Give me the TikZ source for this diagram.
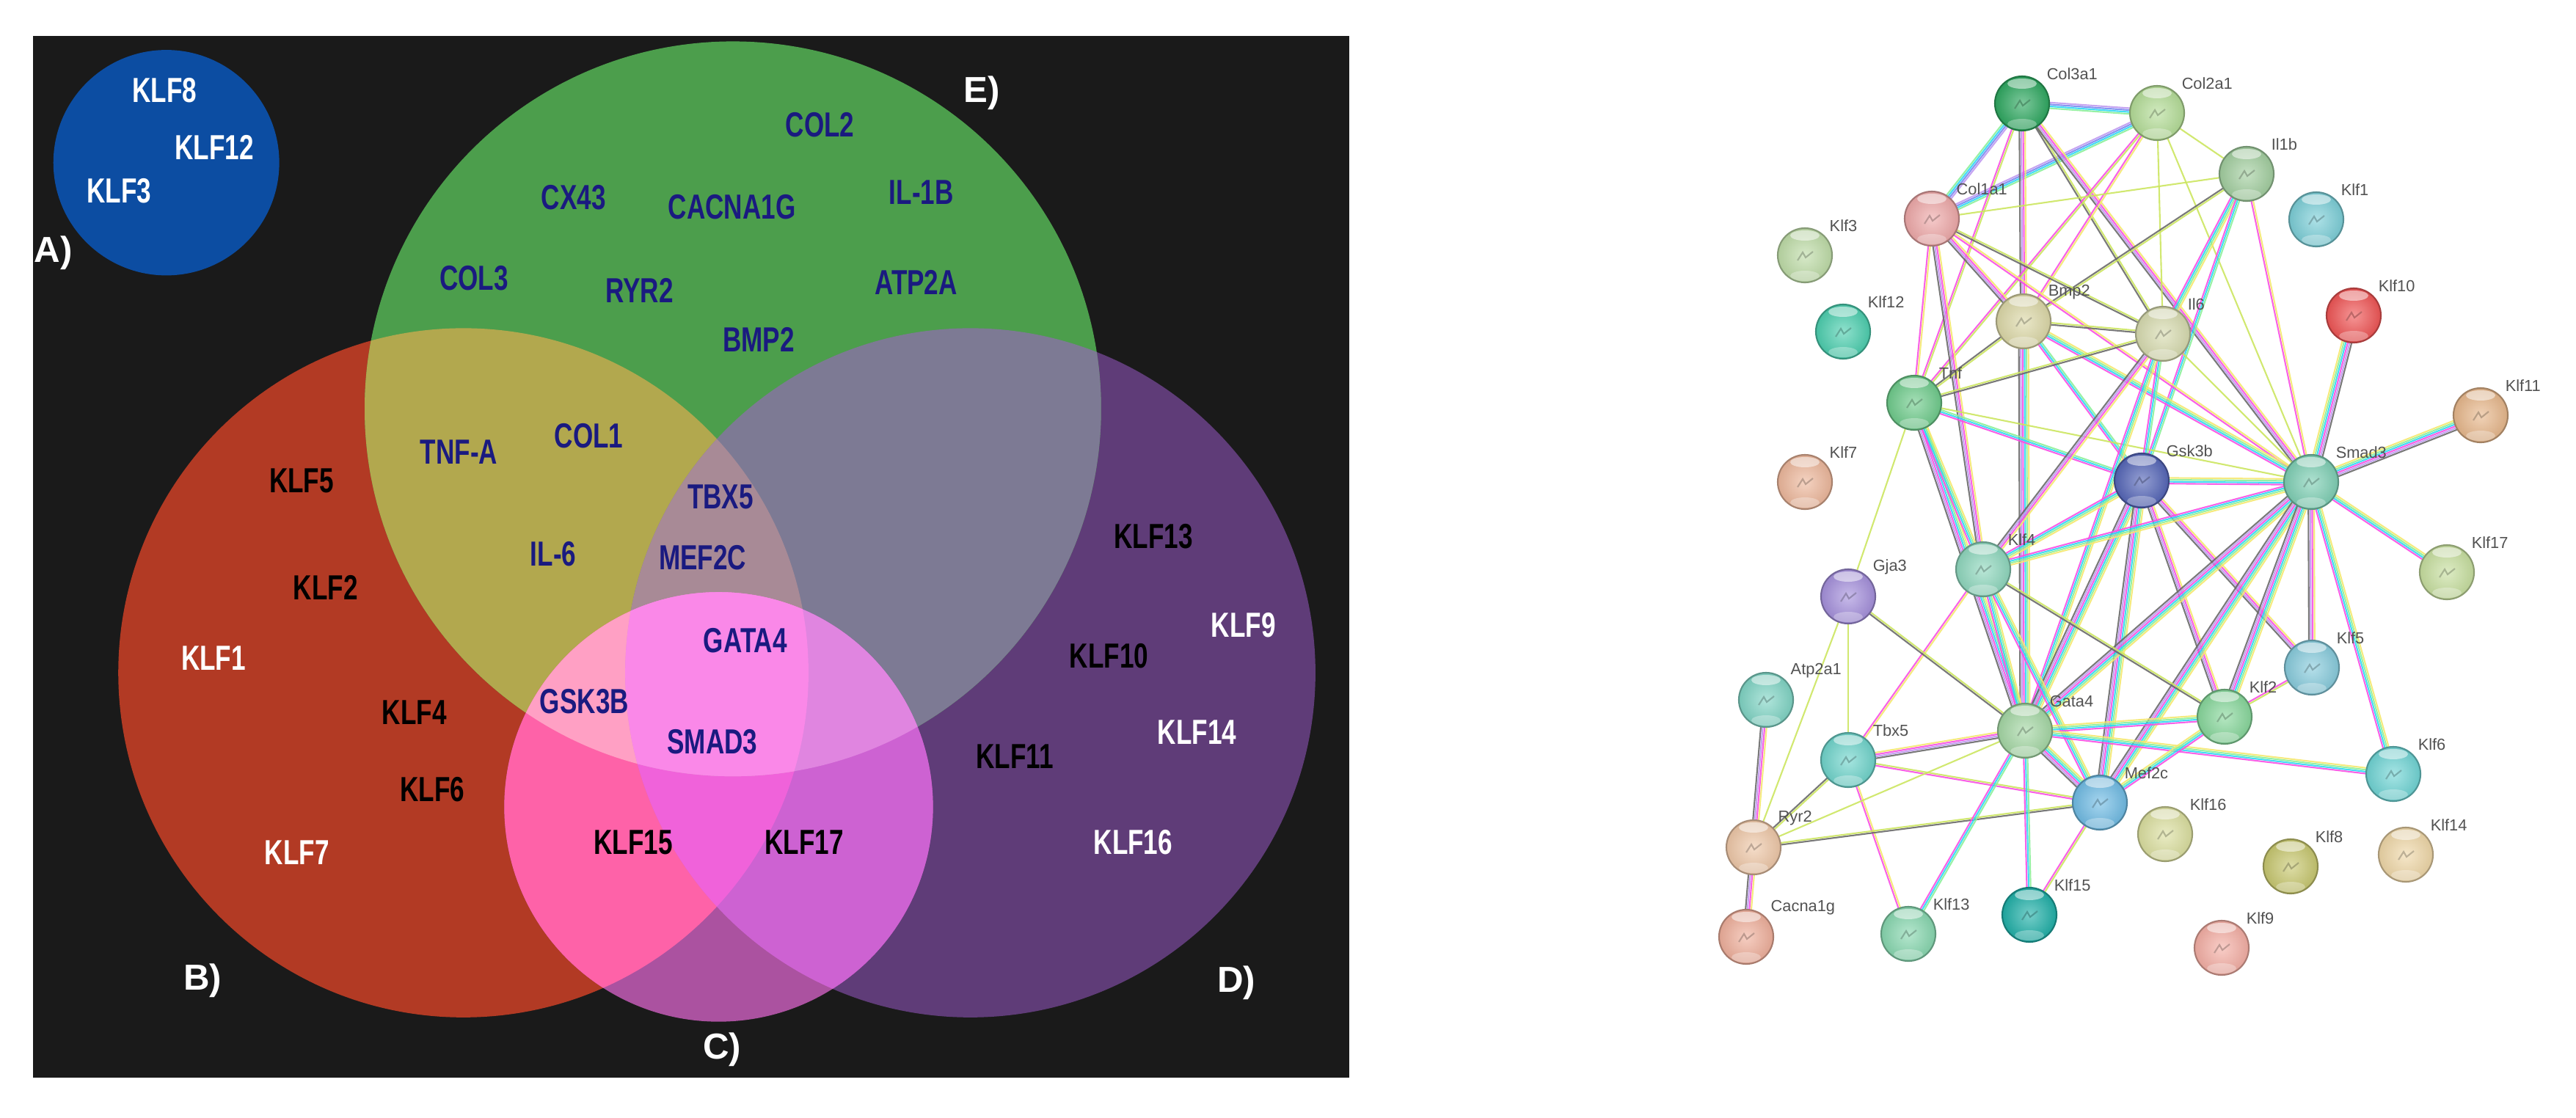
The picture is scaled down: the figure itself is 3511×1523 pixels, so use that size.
\documentclass[tikz,border=0pt]{standalone}
\usepackage{fontspec}
\usetikzlibrary{calc,backgrounds}
\setmainfont{Liberation Sans}
\newfontfamily\vennfont{Liberation Sans}[FakeStretch=0.74]

\definecolor{panelbg}{HTML}{1A1A1A}
\definecolor{vennA}{HTML}{0C4DA2}
\definecolor{genenavy}{HTML}{1A1A80}
\definecolor{strBlack}{HTML}{6A6A6A}
\definecolor{strMag}{HTML}{F850E4}
\definecolor{strPurple}{HTML}{C09AF0}
\definecolor{strCyan}{HTML}{30D8F4}
\definecolor{strBlue}{HTML}{7A8AF0}
\definecolor{strGreen}{HTML}{8CF09A}
\definecolor{strOlive}{HTML}{CCE660}
\definecolor{strYellow}{HTML}{F4E870}

\def\venB{(521,943) ellipse (388 and 483)}
\def\venD{(1091,943) ellipse (388 and 483)}
\def\venE{(824,573) ellipse (414 and 515)}
\def\venC{(808,1131) ellipse (241 and 301)}
\newcommand{\zonefill}[2]{\begin{scope}#1\fill[#2] (37,50) rectangle (1517,1510);\end{scope}}

\def\kFull{strBlack,strPurple,strMag,strCyan,strGreen,strYellow}
\def\kMed{strMag,strCyan,strGreen,strYellow}
\def\kTrio{strMag,strCyan,strGreen}
\def\kCol{strGreen,strCyan,strBlue,strPurple}
\def\kDark{strBlack,strPurple,strMag,strYellow}
\def\kBO{strBlack,strOlive}
\def\kMY{strMag,strYellow}
\def\kMO{strMag,strOlive}
\def\kOne{strOlive}

\tikzset{
    vennlabel/.style={font=\vennfont\bfseries\fontsize{13.5}{15}\selectfont,inner sep=0pt},
    panellabel/.style={font=\bfseries\fontsize{14}{16}\selectfont,text=white,inner sep=0pt},
    genelabel/.style={font=\fontsize{6.2}{7}\selectfont,text=black!68,anchor=west,inner sep=0pt},
    strand/.style={line width=0.6pt,opacity=0.9},
    bead/.style={circle,minimum size=0.74cm,inner sep=0pt,
        draw=#1!70!black,line width=0.6pt,inner color=#1!62!white,outer color=#1!92!black,
        path picture={
            \fill[white,opacity=0.5] ([yshift=-0.1cm]path picture bounding box.north) ellipse [x radius=0.2cm,y radius=0.07cm];
            \fill[white,opacity=0.3] ([yshift=0.09cm]path picture bounding box.south) ellipse [x radius=0.2cm,y radius=0.07cm];
            \draw[#1!55!gray,line width=0.6pt] ([xshift=-0.1cm,yshift=-0.07cm]path picture bounding box.center)
                -- ++(0.07cm,0.11cm) -- ++(0.04cm,-0.07cm) -- ++(0.1cm,0.08cm);
        }},
}

\begin{document}
\begin{tikzpicture}[x=0.01cm,y=-0.01cm]
    \useasboundingbox (0,0) rectangle (3511,1523);

    % left panel, drawn in the units of the crop
    \begin{scope}[x=0.012117cm,y=-0.009713cm]
        \fill[panelbg] (37,50) rectangle (1517,1510);
        \fill[vennA] (187,228) ellipse (127 and 158);

        \fill[fill={rgb,255:red,178;green,58;blue,36}] \venB;
        \fill[fill={rgb,255:red,95;green,60;blue,120}] \venD;
        \fill[fill={rgb,255:red,76;green,158;blue,76}] \venE;
        \fill[fill={rgb,255:red,171;green,82;blue,160}] \venC;
        \zonefill{\clip\venB;\clip\venE;}{fill={rgb,255:red,178;green,168;blue,78}}
        \zonefill{\clip\venD;\clip\venE;}{fill={rgb,255:red,125;green,122;blue,148}}
        \zonefill{\clip\venB;\clip\venC;}{fill={rgb,255:red,254;green,98;blue,168}}
        \zonefill{\clip\venD;\clip\venC;}{fill={rgb,255:red,205;green,98;blue,210}}
        \zonefill{\clip\venB;\clip\venD;\clip\venE;}{fill={rgb,255:red,168;green,138;blue,150}}
        \zonefill{\clip\venB;\clip\venD;\clip\venC;}{fill={rgb,255:red,240;green,98;blue,218}}
        \zonefill{\clip\venB;\clip\venE;\clip\venC;}{fill={rgb,255:red,255;green,160;blue,196}}
        \zonefill{\clip\venD;\clip\venE;\clip\venC;}{fill={rgb,255:red,224;green,133;blue,224}}
        \zonefill{\clip\venB;\clip\venD;\clip\venE;\clip\venC;}{fill={rgb,255:red,250;green,136;blue,232}}

        \foreach \t/\xx/\yy in {KLF8/185/127,KLF12/241/207,KLF3/134/268,KLF1/240/923,KLF7/334/1195,
            KLF9/1398/876,KLF14/1346/1026,KLF16/1274/1181}
            \node[vennlabel,text=white] (v\t) at (\xx,\yy) {\t};
        \foreach \t/\xx/\yy in {KLF5/339/674,KLF2/366/824,KLF4/466/999,KLF6/486/1107,KLF15/712/1181,
            KLF17/904/1181,KLF13/1297/752,KLF10/1247/919,KLF11/1141/1060}
            \node[vennlabel,text=black] (v\t) at (\xx,\yy) {\t};
        \foreach \t/\xx/\yy in {COL2/922/175,CX43/645/277,CACNA1G/823/290,IL-1B/1036/270,COL3/533/390,
            RYR2/719/407,ATP2A/1030/396,BMP2/853/476,TNF-A/516/634,COL1/662/611,TBX5/810/697,
            MEF2C/790/782,IL-6/622/776,GATA4/838/898,GSK3B/657/983,SMAD3/801/1040}
            \node[vennlabel,text=genenavy] (v\t) at (\xx,\yy) {\t};

        \node[panellabel] (panelA) at (60,355) {A)};
        \node[panellabel] (panelB) at (228,1375) {B)};
        \node[panellabel] (panelC) at (812,1471) {C)};
        \node[panellabel] (panelD) at (1390,1378) {D)};
        \node[panellabel] (panelE) at (1104,130) {E)};
    \end{scope}

    % right panel
    \foreach \nm/\xx/\yy/\cc in {
        Col3a1/2756/141/2EA860,Col2a1/2940/154/B5DE98,Il1b/3062/237/A3CFA0,Klf1/3157/299/7CCFD8,
        Klf10/3208/430/F05555,Klf11/3381/566/E8B88C,Col1a1/2633/298/EFA9A9,Klf3/2460/348/BFDDA8,
        Klf12/2512/452/4CCFAF,Tnf/2609/549/6FCC8C,Klf7/2460/657/EEB89C,Bmp2/2758/438/DDD9A8,
        Il6/2948/455/D8DCB0,Gsk3b/2919/655/5566B8,Smad3/3150/657/7FD0B5,Gja3/2519/813/A590DC,
        Klf4/2703/776/8FD8BE,Atp2a1/2407/954/80D5C5,Tbx5/2519/1036/70D5CC,Gata4/2760/996/A5D8A5,
        Klf2/3032/977/88D89C,Klf5/3151/910/88CCDD,Klf6/3262/1055/70D5D5,Mef2c/2862/1094/70BCE5,
        Ryr2/2390/1155/EFC8A8,Cacna1g/2380/1277/F0B09C,Klf13/2601/1273/88D8B0,Klf15/2766/1247/20B0A8,
        Klf16/2951/1137/DCE0A0,Klf8/3122/1181/C8C870,Klf14/3279/1165/F0D8A8,Klf9/3028/1292/F5AFA5,
        Klf17/3335/780/C8E0A0}{
        \definecolor{beadc}{HTML}{\cc}
        \node[bead=beadc] (\nm) at (\xx,\yy) {};
        \node[genelabel] (\nm-label) at ([xshift=0.33cm,yshift=0.4cm]\nm.center) {\nm};
    }

    \begin{scope}[on background layer]
        \foreach \pa/\pb/\pc in {
            Col3a1/Col2a1/\kCol,Col3a1/Col1a1/\kCol,Col1a1/Col2a1/\kCol,Col3a1/Bmp2/\kDark,
            Col3a1/Tnf/\kMO,Col3a1/Il6/\kBO,Col3a1/Smad3/\kDark,Col2a1/Bmp2/\kMY,Col2a1/Tnf/\kMO,
            Col2a1/Il1b/\kOne,Col2a1/Il6/\kOne,Col2a1/Smad3/\kOne,Il1b/Col1a1/\kOne,Il1b/Bmp2/\kBO,
            Il1b/Il6/\kMed,Il1b/Gsk3b/\kTrio,Il1b/Smad3/\kMY,Col1a1/Tnf/\kMY,Col1a1/Klf4/\kDark,
            Col1a1/Bmp2/\kDark,Col1a1/Il6/\kBO,Col1a1/Smad3/\kMY,Bmp2/Tnf/\kBO,Bmp2/Il6/\kBO,
            Bmp2/Gata4/\kFull,Bmp2/Smad3/\kMed,Bmp2/Gsk3b/\kTrio,Tnf/Il6/\kBO,Tnf/Smad3/\kOne,
            Tnf/Gsk3b/\kTrio,Tnf/Gata4/\kFull,Tnf/Klf4/\kMed,Tnf/Gja3/\kOne,Il6/Gsk3b/\kTrio,
            Il6/Smad3/\kOne,Il6/Klf4/\kDark,Il6/Gata4/\kMed,Gsk3b/Smad3/\kMed,Gsk3b/Klf4/\kMed,
            Gsk3b/Gata4/\kFull,Gsk3b/Klf2/\kDark,Gsk3b/Mef2c/\kFull,Gsk3b/Klf5/\kDark,Smad3/Klf4/\kMed,
            Smad3/Gata4/\kFull,Smad3/Mef2c/\kFull,Smad3/Klf2/\kFull,Smad3/Klf5/\kDark,Smad3/Klf6/\kMed,
            Smad3/Klf17/\kMed,Smad3/Klf10/\kFull,Smad3/Klf11/\kFull,Klf4/Gata4/\kMed,Klf4/Mef2c/\kMed,
            Klf4/Klf2/\kBO,Klf4/Tbx5/\kMY,Gja3/Gata4/\kBO,Gja3/Tbx5/\kOne,Gja3/Ryr2/\kOne,
            Atp2a1/Ryr2/\kDark,Tbx5/Gata4/\kDark,Tbx5/Mef2c/\kMO,Tbx5/Ryr2/\kBO,Tbx5/Klf13/\kMY,
            Ryr2/Gata4/\kOne,Ryr2/Mef2c/\kBO,Ryr2/Cacna1g/\kDark,Gata4/Mef2c/\kFull,Gata4/Klf2/\kMed,
            Gata4/Klf13/\kTrio,Gata4/Klf15/\kTrio,Gata4/Klf6/\kMed,Mef2c/Klf2/\kMed,Mef2c/Klf15/\kMO,
            Klf5/Klf2/\kMO}{
            \edef\pcl{\pc}
            \foreach \c [count=\k] in \pcl {\xdef\strandn{\k}}
            \foreach \c [count=\k] in \pcl {
                \pgfmathsetmacro{\off}{0.74*(\k-(\strandn+1)/2)}
                \draw[strand,\c] ($(\pa)!\off pt!90:(\pb)$) -- ($(\pb)!\off pt!-90:(\pa)$);
            }
        }
    \end{scope}
\end{tikzpicture}
\end{document}
